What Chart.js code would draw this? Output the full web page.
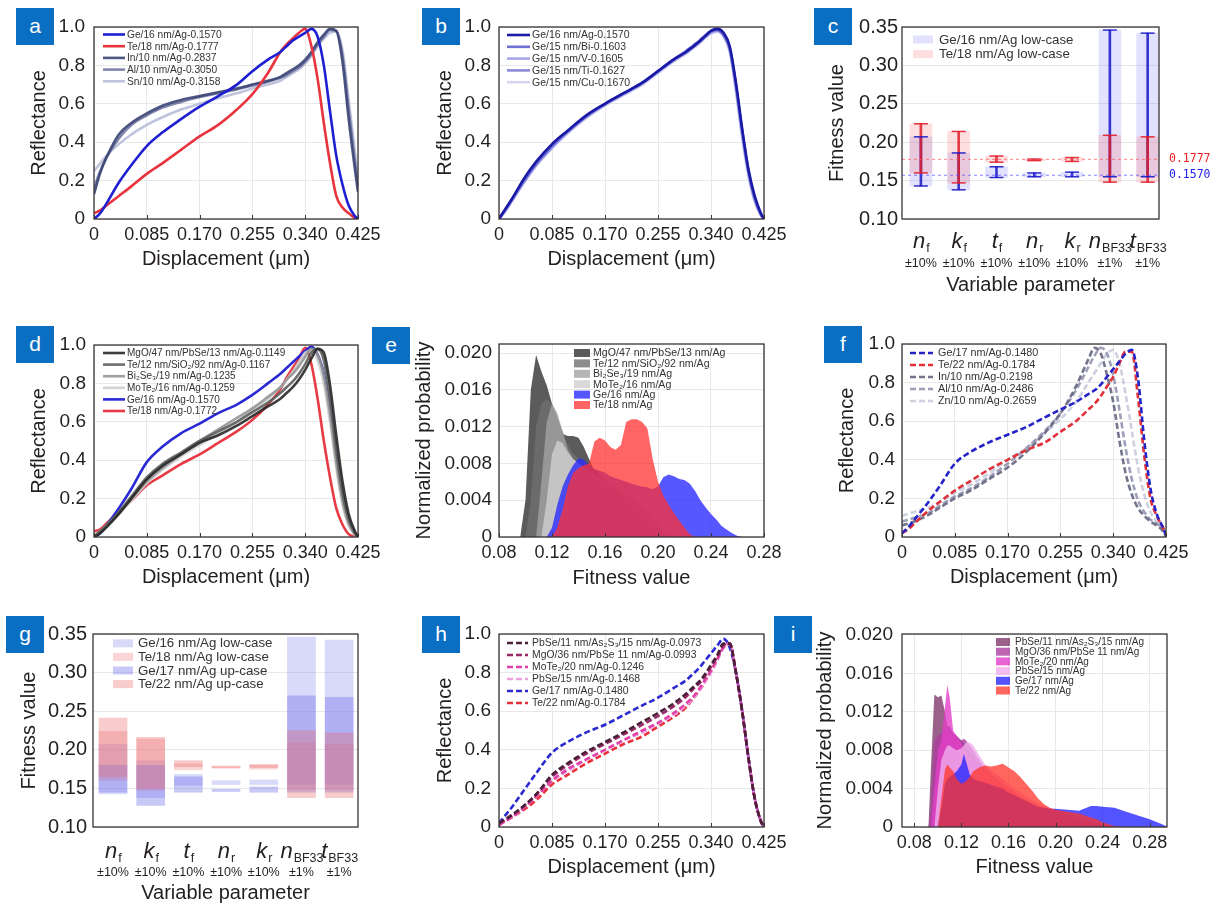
<!DOCTYPE html>
<html>
<head>
<meta charset="utf-8">
<title>Reflectance and fitness panels</title>
<script src="https://cdn.jsdelivr.net/npm/chart.js@4.4.1/dist/chart.umd.min.js"></script>
<style>
  html, body { margin: 0; padding: 0; background: #fff; }
  #fig { position: relative; width: 1218px; height: 905px; overflow: hidden; }
  #fig canvas { position: absolute; }
  .tag { position: absolute; width: 38px; height: 37px; background: #0a6fc2; color: #fff; z-index: 2;
         font: 21px "Liberation Sans", Arial, sans-serif; line-height: 35px; text-align: center; }
</style>
</head>
<body>
<div id="fig">
  <div class="tag" style="left:16px;top:8px">a</div>
  <div class="tag" style="left:422px;top:8px">b</div>
  <div class="tag" style="left:814px;top:8px">c</div>
  <div class="tag" style="left:16px;top:326px">d</div>
  <div class="tag" style="left:372px;top:327px">e</div>
  <div class="tag" style="left:824px;top:326px">f</div>
  <div class="tag" style="left:6px;top:616px">g</div>
  <div class="tag" style="left:422px;top:616px">h</div>
  <div class="tag" style="left:774px;top:616px">i</div>
</div>
<script>
// ---------- data ----------
// reflectance curves share one displacement grid (µm)
const xR = [0, 0.01, 0.02, 0.04, 0.06, 0.085, 0.11, 0.14, 0.17, 0.2, 0.23, 0.255, 0.28, 0.3, 0.31, 0.32, 0.33, 0.34, 0.35, 0.36, 0.37, 0.38, 0.39, 0.4, 0.41, 0.42, 0.425];
const dispTicks = [0, 0.085, 0.17, 0.255, 0.34, 0.425];
const dispTickLabels = ['0', '0.085', '0.170', '0.255', '0.340', '0.425'];
const reflTicks = [0, 0.2, 0.4, 0.6, 0.8, 1.0];
const reflTickLabels = ['0', '0.2', '0.4', '0.6', '0.8', '1.0'];

// a
const aLabels = ['Ge/16 nm/Ag-0.1570', 'Te/18 nm/Ag-0.1777', 'In/10 nm/Ag-0.2837', 'Al/10 nm/Ag-0.3050', 'Sn/10 nm/Ag-0.3158'];
const aGe16 = [0, 0.03, 0.08, 0.19, 0.28, 0.38, 0.45, 0.52, 0.585, 0.64, 0.70, 0.77, 0.83, 0.87, 0.90, 0.93, 0.95, 0.97, 0.99, 0.95, 0.80, 0.56, 0.33, 0.18, 0.07, 0.015, 0];
const aTe18 = [0.03, 0.045, 0.07, 0.12, 0.17, 0.235, 0.29, 0.36, 0.43, 0.49, 0.57, 0.65, 0.76, 0.87, 0.91, 0.94, 0.97, 0.99, 0.90, 0.73, 0.50, 0.29, 0.12, 0.06, 0.03, 0.005, 0];
const aIn10 = [0.13, 0.24, 0.32, 0.44, 0.50, 0.55, 0.59, 0.62, 0.64, 0.66, 0.68, 0.70, 0.72, 0.74, 0.76, 0.78, 0.80, 0.83, 0.87, 0.92, 0.96, 0.99, 0.98, 0.82, 0.52, 0.26, 0.14];
const aAl10 = [0.16, 0.25, 0.32, 0.42, 0.49, 0.54, 0.58, 0.61, 0.635, 0.655, 0.675, 0.695, 0.715, 0.735, 0.75, 0.77, 0.79, 0.82, 0.86, 0.91, 0.95, 0.985, 0.98, 0.85, 0.57, 0.30, 0.17];
const aSn10 = [0.25, 0.29, 0.33, 0.39, 0.44, 0.49, 0.53, 0.57, 0.60, 0.63, 0.655, 0.68, 0.70, 0.72, 0.74, 0.76, 0.78, 0.81, 0.85, 0.90, 0.94, 0.97, 0.975, 0.88, 0.62, 0.35, 0.20];

// b
const bLabels = ['Ge/16 nm/Ag-0.1570', 'Ge/15 nm/Bi-0.1603', 'Ge/15 nm/V-0.1605', 'Ge/15 nm/Ti-0.1627', 'Ge/15 nm/Cu-0.1670'];
const bGe16 = [0, 0.05, 0.10, 0.21, 0.30, 0.39, 0.46, 0.54, 0.60, 0.655, 0.71, 0.77, 0.83, 0.87, 0.895, 0.92, 0.95, 0.98, 0.99, 0.97, 0.90, 0.71, 0.47, 0.26, 0.12, 0.03, 0];
const bBi = [0, 0.05, 0.10, 0.20, 0.29, 0.38, 0.455, 0.535, 0.60, 0.655, 0.71, 0.77, 0.83, 0.875, 0.90, 0.925, 0.955, 0.98, 0.985, 0.96, 0.89, 0.70, 0.46, 0.25, 0.11, 0.025, 0];
const bV = [0, 0.04, 0.09, 0.19, 0.28, 0.37, 0.45, 0.53, 0.595, 0.65, 0.705, 0.765, 0.825, 0.865, 0.89, 0.915, 0.945, 0.97, 0.98, 0.955, 0.88, 0.68, 0.44, 0.24, 0.10, 0.02, 0];
const bTi = [0, 0.05, 0.10, 0.20, 0.29, 0.38, 0.455, 0.535, 0.60, 0.655, 0.71, 0.77, 0.83, 0.87, 0.895, 0.92, 0.95, 0.975, 0.985, 0.96, 0.885, 0.69, 0.45, 0.245, 0.105, 0.022, 0];
const bCu = [0, 0.04, 0.09, 0.19, 0.28, 0.37, 0.445, 0.525, 0.59, 0.645, 0.70, 0.76, 0.82, 0.86, 0.885, 0.91, 0.94, 0.965, 0.975, 0.95, 0.87, 0.66, 0.42, 0.22, 0.09, 0.018, 0];

// c and g: parameter ranges of the fitness value
const paramPos = [1, 2, 3, 4, 5, 6, 7];
const paramMain = ['n', 'k', 't', 'n', 'k', 'n', 't'];
const paramSub = ['f', 'f', 'f', 'r', 'r', 'BF33', 'BF33'];
const paramRange = ['±10%', '±10%', '±10%', '±10%', '±10%', '±1%', '±1%'];
const fitTicksC = [0.10, 0.15, 0.20, 0.25, 0.30, 0.35];
const fitTickLabelsC = ['0.10', '0.15', '0.20', '0.25', '0.30', '0.35'];
const geLow = [[0.143, 0.207], [0.138, 0.186], [0.154, 0.168], [0.155, 0.160], [0.155, 0.161], [0.155, 0.346], [0.155, 0.342]];
const teLow = [[0.160, 0.224], [0.147, 0.214], [0.174, 0.182], [0.176, 0.178], [0.175, 0.180], [0.148, 0.209], [0.148, 0.207]];
const geUp = [[0.145, 0.180], [0.128, 0.180], [0.145, 0.165], [0.146, 0.149], [0.145, 0.152], [0.145, 0.270], [0.145, 0.268]];
const teUp = [[0.165, 0.241], [0.150, 0.216], [0.178, 0.186], [0.177, 0.179], [0.177, 0.181], [0.138, 0.225], [0.138, 0.222]];
const refValues = [0.1777, 0.1570];

// d
const dLabels = ['MgO/47 nm/PbSe/13 nm/Ag-0.1149', 'Te/12 nm/SiO₂/92 nm/Ag-0.1167', 'Bi₂Se₃/19 nm/Ag-0.1235', 'MoTe₂/16 nm/Ag-0.1259', 'Ge/16 nm/Ag-0.1570', 'Te/18 nm/Ag-0.1772'];
const dMgO = [0, 0.02, 0.05, 0.12, 0.20, 0.30, 0.37, 0.43, 0.49, 0.53, 0.58, 0.63, 0.68, 0.72, 0.75, 0.78, 0.82, 0.87, 0.93, 0.98, 0.96, 0.79, 0.53, 0.29, 0.12, 0.03, 0];
const dTe12 = [0, 0.03, 0.06, 0.13, 0.21, 0.31, 0.38, 0.44, 0.50, 0.55, 0.60, 0.65, 0.70, 0.75, 0.78, 0.81, 0.85, 0.90, 0.96, 0.98, 0.92, 0.72, 0.45, 0.23, 0.09, 0.02, 0];
const dBi = [0, 0.03, 0.06, 0.12, 0.20, 0.29, 0.36, 0.43, 0.50, 0.56, 0.62, 0.67, 0.73, 0.78, 0.82, 0.85, 0.89, 0.94, 0.98, 0.95, 0.84, 0.64, 0.39, 0.19, 0.07, 0.015, 0];
const dMoTe = [0.01, 0.03, 0.06, 0.12, 0.19, 0.28, 0.35, 0.42, 0.48, 0.54, 0.60, 0.66, 0.72, 0.78, 0.82, 0.86, 0.91, 0.96, 0.97, 0.92, 0.80, 0.60, 0.36, 0.17, 0.06, 0.01, 0];
const dGe16 = [0, 0.02, 0.06, 0.15, 0.25, 0.39, 0.47, 0.54, 0.59, 0.645, 0.69, 0.74, 0.80, 0.85, 0.88, 0.91, 0.94, 0.97, 0.99, 0.95, 0.85, 0.67, 0.43, 0.22, 0.09, 0.015, 0];
const dTe18 = [0.03, 0.04, 0.07, 0.13, 0.19, 0.27, 0.32, 0.38, 0.43, 0.49, 0.55, 0.61, 0.69, 0.77, 0.83, 0.88, 0.93, 0.985, 0.90, 0.72, 0.50, 0.31, 0.15, 0.065, 0.015, 0.002, 0];

// e: fitness distributions
const xE = [0.096, 0.1, 0.104, 0.108, 0.112, 0.116, 0.12, 0.124, 0.128, 0.132, 0.136, 0.14, 0.144, 0.148, 0.152, 0.156, 0.16, 0.164, 0.168, 0.172, 0.176, 0.18, 0.184, 0.188, 0.192, 0.196, 0.2, 0.204, 0.208, 0.212, 0.216, 0.22, 0.224, 0.228, 0.232, 0.236, 0.24, 0.244, 0.248, 0.252, 0.256, 0.26, 0.264];
const eLabels = ['MgO/47 nm/PbSe/13 nm/Ag', 'Te/12 nm/SiO₂/92 nm/Ag', 'Bi₂Se₃/19 nm/Ag', 'MoTe₂/16 nm/Ag', 'Ge/16 nm/Ag', 'Te/18 nm/Ag'];
const eMgO = [0, 0.004, 0.016, 0.0198, 0.018, 0.0165, 0.0145, 0.013, 0.0112, 0.011, 0.011, 0.0108, 0.0098, 0.0085, 0.0072, 0.0065, 0.006, 0.0056, 0.0052, 0.0048, 0.0044, 0.004, 0.0035, 0.003, 0.0024, 0.0018, 0.0012, 0.0006, 0.0002, 0, 0, 0, 0, 0, 0, 0, 0, 0, 0, 0, 0, 0, 0];
const eTe12 = [0, 0, 0.004, 0.012, 0.0145, 0.015, 0.0145, 0.013, 0.0115, 0.010, 0.009, 0.0086, 0.0082, 0.0078, 0.0074, 0.0068, 0.0062, 0.0058, 0.0054, 0.005, 0.0046, 0.0042, 0.0036, 0.003, 0.0024, 0.0016, 0.001, 0.0004, 0, 0, 0, 0, 0, 0, 0, 0, 0, 0, 0, 0, 0, 0, 0];
const eBi = [0, 0, 0, 0, 0.006, 0.0125, 0.0145, 0.0135, 0.0115, 0.0095, 0.0085, 0.008, 0.0077, 0.0073, 0.0068, 0.0063, 0.0058, 0.0054, 0.005, 0.0046, 0.0042, 0.0038, 0.0033, 0.0028, 0.0022, 0.0016, 0.001, 0.0005, 0.0002, 0, 0, 0, 0, 0, 0, 0, 0, 0, 0, 0, 0, 0, 0];
const eMoTe = [0, 0, 0, 0, 0, 0.004, 0.009, 0.0105, 0.0102, 0.0092, 0.0085, 0.008, 0.0076, 0.0072, 0.0068, 0.0065, 0.0062, 0.0058, 0.0054, 0.005, 0.0046, 0.0042, 0.0037, 0.0032, 0.0026, 0.002, 0.0014, 0.0009, 0.0005, 0.0002, 0, 0, 0, 0, 0, 0, 0, 0, 0, 0, 0, 0, 0];
const eGe16 = [0, 0, 0, 0, 0, 0, 0.001, 0.0035, 0.0055, 0.0068, 0.0078, 0.0086, 0.0084, 0.0078, 0.0074, 0.0072, 0.007, 0.0066, 0.0064, 0.0062, 0.006, 0.0058, 0.0056, 0.0055, 0.0054, 0.0052, 0.0055, 0.0065, 0.0068, 0.0066, 0.0063, 0.0062, 0.0058, 0.005, 0.004, 0.0032, 0.0025, 0.0019, 0.0012, 0.0008, 0.0004, 0.0001, 0];
const eTe18 = [0, 0, 0, 0, 0, 0, 0, 0.001, 0.003, 0.0055, 0.007, 0.0075, 0.0078, 0.008, 0.0104, 0.0108, 0.0105, 0.0098, 0.0095, 0.01, 0.0125, 0.0128, 0.0128, 0.0125, 0.0118, 0.0085, 0.006, 0.0045, 0.0035, 0.0026, 0.0018, 0.001, 0.0003, 0, 0, 0, 0, 0, 0, 0, 0, 0, 0];
const fitTicks = [0.08, 0.12, 0.16, 0.20, 0.24, 0.28];
const fitTickLabels = ['0.08', '0.12', '0.16', '0.20', '0.24', '0.28'];
const probTicks = [0, 0.004, 0.008, 0.012, 0.016, 0.020];
const probTickLabels = ['0', '0.004', '0.008', '0.012', '0.016', '0.020'];

// f
const fLabels = ['Ge/17 nm/Ag-0.1480', 'Te/22 nm/Ag-0.1784', 'In/10 nm/Ag-0.2198', 'Al/10 nm/Ag-0.2486', 'Zn/10 nm/Ag-0.2659'];
const fGe17 = [0.02, 0.05, 0.09, 0.17, 0.26, 0.38, 0.44, 0.49, 0.53, 0.57, 0.62, 0.66, 0.70, 0.74, 0.76, 0.79, 0.83, 0.87, 0.91, 0.95, 0.97, 0.82, 0.50, 0.25, 0.12, 0.05, 0.01];
const fTe22 = [0.02, 0.04, 0.07, 0.13, 0.18, 0.24, 0.29, 0.35, 0.40, 0.45, 0.49, 0.545, 0.60, 0.66, 0.69, 0.73, 0.78, 0.83, 0.90, 0.96, 0.96, 0.72, 0.42, 0.20, 0.11, 0.05, 0.02];
const fIn10 = [0.06, 0.07, 0.08, 0.11, 0.15, 0.20, 0.24, 0.30, 0.36, 0.44, 0.54, 0.64, 0.78, 0.92, 0.98, 0.95, 0.84, 0.70, 0.50, 0.33, 0.22, 0.15, 0.11, 0.08, 0.06, 0.03, 0];
const fAl10 = [0.08, 0.09, 0.10, 0.12, 0.16, 0.21, 0.25, 0.31, 0.38, 0.46, 0.55, 0.64, 0.76, 0.88, 0.94, 0.98, 0.95, 0.84, 0.66, 0.46, 0.30, 0.19, 0.13, 0.09, 0.07, 0.04, 0.01];
const fZn10 = [0.11, 0.12, 0.13, 0.15, 0.18, 0.23, 0.27, 0.33, 0.40, 0.46, 0.54, 0.61, 0.70, 0.80, 0.85, 0.90, 0.95, 0.97, 0.90, 0.74, 0.55, 0.36, 0.22, 0.13, 0.08, 0.04, 0.01];

// g
const gLabels = ['Ge/16 nm/Ag low-case', 'Te/18 nm/Ag low-case', 'Ge/17 nm/Ag up-case', 'Te/22 nm/Ag up-case'];

// h
const hLabels = ['PbSe/11 nm/As₂S₃/15 nm/Ag-0.0973', 'MgO/36 nm/PbSe 11 nm/Ag-0.0993', 'MoTe₂/20 nm/Ag-0.1246', 'PbSe/15 nm/Ag-0.1468', 'Ge/17 nm/Ag-0.1480', 'Te/22 nm/Ag-0.1784'];
const hPbSe11 = [0.02, 0.04, 0.06, 0.11, 0.17, 0.27, 0.33, 0.39, 0.44, 0.49, 0.545, 0.59, 0.64, 0.69, 0.72, 0.75, 0.79, 0.84, 0.89, 0.95, 0.95, 0.80, 0.60, 0.36, 0.15, 0.03, 0];
const hMgO36 = [0.02, 0.04, 0.06, 0.11, 0.17, 0.26, 0.32, 0.38, 0.43, 0.48, 0.53, 0.575, 0.625, 0.675, 0.71, 0.74, 0.78, 0.83, 0.88, 0.94, 0.95, 0.80, 0.60, 0.36, 0.15, 0.03, 0];
const hMoTe20 = [0.01, 0.03, 0.05, 0.10, 0.16, 0.24, 0.30, 0.35, 0.40, 0.45, 0.50, 0.54, 0.59, 0.64, 0.67, 0.71, 0.76, 0.81, 0.87, 0.93, 0.95, 0.80, 0.60, 0.36, 0.15, 0.03, 0];
const hPbSe15 = [0.01, 0.03, 0.05, 0.10, 0.16, 0.24, 0.29, 0.35, 0.40, 0.45, 0.49, 0.535, 0.58, 0.63, 0.66, 0.70, 0.75, 0.80, 0.86, 0.93, 0.95, 0.80, 0.60, 0.36, 0.15, 0.03, 0];
const hGe17 = [0.02, 0.06, 0.10, 0.19, 0.28, 0.385, 0.44, 0.49, 0.53, 0.58, 0.63, 0.67, 0.72, 0.76, 0.79, 0.82, 0.86, 0.90, 0.94, 0.975, 0.93, 0.80, 0.60, 0.36, 0.15, 0.03, 0];
const hTe22 = [0.02, 0.03, 0.05, 0.09, 0.14, 0.22, 0.27, 0.33, 0.38, 0.43, 0.47, 0.52, 0.57, 0.62, 0.66, 0.70, 0.75, 0.81, 0.87, 0.93, 0.95, 0.80, 0.60, 0.36, 0.15, 0.03, 0];

// i
const xI = [0.090, 0.092, 0.094, 0.097, 0.100, 0.103, 0.106, 0.108, 0.110, 0.113, 0.116, 0.120, 0.122, 0.124, 0.127, 0.130, 0.135, 0.140, 0.145, 0.150, 0.155, 0.160, 0.165, 0.170, 0.175, 0.180, 0.185, 0.190, 0.195, 0.200, 0.210, 0.220, 0.230, 0.235, 0.240, 0.250, 0.260, 0.270, 0.280, 0.290, 0.296];
const iLabels = ['PbSe/11 nm/As₂S₃/15 nm/Ag', 'MgO/36 nm/PbSe 11 nm/Ag', 'MoTe₂/20 nm/Ag', 'PbSe/15 nm/Ag', 'Ge/17 nm/Ag', 'Te/22 nm/Ag'];
const iPbSe11 = [0, 0, 0.006, 0.0138, 0.0135, 0.0137, 0.012, 0.0105, 0.0105, 0.0098, 0.0095, 0.009, 0.0088, 0.0082, 0.0078, 0.0072, 0.0065, 0.006, 0.0055, 0.005, 0.0045, 0.004, 0.0036, 0.0032, 0.0028, 0.0025, 0.0022, 0.002, 0.0018, 0.0016, 0.0012, 0.0008, 0.0005, 0.0003, 0.0002, 0, 0, 0, 0, 0, 0];
const iMgO36 = [0, 0, 0.002, 0.009, 0.0095, 0.0098, 0.0102, 0.0105, 0.01, 0.0095, 0.0092, 0.009, 0.0092, 0.009, 0.0085, 0.008, 0.007, 0.0062, 0.0056, 0.005, 0.0045, 0.004, 0.0036, 0.0032, 0.0028, 0.0025, 0.0022, 0.002, 0.0018, 0.0016, 0.0012, 0.0008, 0.0005, 0.0003, 0.0002, 0, 0, 0, 0, 0, 0];
const iMoTe20 = [0, 0, 0, 0.004, 0.008, 0.009, 0.0125, 0.0148, 0.0135, 0.01, 0.0095, 0.0088, 0.008, 0.0075, 0.0072, 0.007, 0.0062, 0.0058, 0.0052, 0.0048, 0.0044, 0.004, 0.0036, 0.0032, 0.0028, 0.0025, 0.0022, 0.002, 0.0018, 0.0016, 0.0012, 0.0008, 0.0005, 0.0003, 0.0002, 0, 0, 0, 0, 0, 0];
const iPbSe15 = [0, 0, 0, 0, 0.004, 0.007, 0.008, 0.0085, 0.0085, 0.0082, 0.008, 0.0082, 0.0085, 0.0088, 0.0088, 0.0085, 0.0075, 0.0065, 0.006, 0.0055, 0.005, 0.0045, 0.004, 0.0036, 0.0032, 0.0028, 0.0025, 0.0022, 0.002, 0.0018, 0.0014, 0.001, 0.0006, 0.0004, 0.0002, 0, 0, 0, 0, 0, 0];
const iGe17 = [0, 0, 0, 0, 0, 0.002, 0.0045, 0.005, 0.0052, 0.0055, 0.0058, 0.0065, 0.0076, 0.0068, 0.0055, 0.005, 0.0048, 0.0046, 0.0044, 0.0042, 0.004, 0.0036, 0.0033, 0.003, 0.0027, 0.0024, 0.0021, 0.002, 0.0019, 0.0019, 0.0018, 0.0017, 0.0022, 0.0022, 0.0021, 0.002, 0.0016, 0.0012, 0.0008, 0.0003, 0];
const iTe22 = [0, 0, 0, 0, 0, 0.003, 0.006, 0.0065, 0.0062, 0.0058, 0.005, 0.0045, 0.0046, 0.0048, 0.0052, 0.0058, 0.0062, 0.0064, 0.0063, 0.0064, 0.0066, 0.0062, 0.0058, 0.0052, 0.0045, 0.0038, 0.003, 0.0024, 0.002, 0.0018, 0.0016, 0.0014, 0.001, 0.0008, 0.0005, 0.0001, 0, 0, 0, 0, 0];

// ---------- drawing ----------
const FONT = '"Liberation Sans", Arial, sans-serif';
const INK = '#231f20';
const GRID = '#e8e8e8';
Chart.defaults.font.family = FONT;
Chart.defaults.color = INK;
const fig = document.getElementById('fig');

// dark frame round the plot, optional short inward ticks on the bottom edge
const framePlugin = {
  id: 'frame',
  defaults: { ticks: false },
  afterDatasetsDraw(chart, args, o) {
    const { ctx, chartArea: ca } = chart;
    ctx.save();
    ctx.strokeStyle = '#3a3436';
    ctx.lineWidth = 1.3;
    ctx.strokeRect(ca.left, ca.top, ca.right - ca.left, ca.bottom - ca.top);
    if (o.ticks) {
      const xs = chart.scales.x;
      ctx.lineWidth = 1;
      xs.ticks.forEach(t => {
        const px = Math.round(xs.getPixelForValue(t.value)) + 0.5;
        ctx.beginPath(); ctx.moveTo(px, ca.bottom); ctx.lineTo(px, ca.bottom - 4); ctx.stroke();
      });
    }
    ctx.restore();
  }
};

// small legend drawn inside the plot, built from the datasets that carry a label
const legendPlugin = {
  id: 'legendIn',
  afterDraw(chart, args, o) {
    if (!o || o.x === undefined) return;
    const ctx = chart.ctx;
    ctx.save();
    ctx.font = o.size + 'px ' + FONT;
    ctx.textBaseline = 'middle';
    ctx.textAlign = 'left';
    let y = o.y;
    chart.data.datasets.forEach(ds => {
      if (!ds.label) return;
      if (o.box) {
        ctx.fillStyle = ds.backgroundColor;
        ctx.fillRect(o.x, y - o.bh / 2, o.len, o.bh);
      } else {
        ctx.strokeStyle = ds.borderColor;
        ctx.lineWidth = ds.borderWidth;
        ctx.setLineDash(ds.borderDash || []);
        ctx.beginPath(); ctx.moveTo(o.x, y); ctx.lineTo(o.x + o.len, y); ctx.stroke();
        ctx.setLineDash([]);
      }
      ctx.fillStyle = '#333';
      ctx.fillText(ds.label, o.x + o.len + o.gap, y + 0.5);
      y += o.dy;
    });
    ctx.restore();
  }
};

// italic parameter names with subscripts and their ranges under the x axis
const paramPlugin = {
  id: 'paramLabels',
  afterDraw(chart, args, o) {
    const ctx = chart.ctx, xs = chart.scales.x;
    ctx.save();
    ctx.fillStyle = INK;
    ctx.textBaseline = 'alphabetic';
    paramPos.forEach((p, i) => {
      const cx = xs.getPixelForValue(p);
      ctx.font = 'italic 22px ' + FONT;
      const w1 = ctx.measureText(paramMain[i]).width;
      ctx.font = '12.5px ' + FONT;
      const w2 = ctx.measureText(paramSub[i]).width;
      const x0 = cx - (w1 + w2) / 2;
      ctx.textAlign = 'left';
      ctx.font = 'italic 22px ' + FONT;
      ctx.fillText(paramMain[i], x0, o.mainY);
      ctx.font = '12.5px ' + FONT;
      ctx.fillText(paramSub[i], x0 + w1 + 1, o.mainY + 4);
      ctx.textAlign = 'center';
      ctx.font = '12.5px ' + FONT;
      ctx.fillText(paramRange[i], cx, o.rangeY);
    });
    ctx.restore();
  }
};

// value tags for the two reference lines of panel c
const refPlugin = {
  id: 'refTags',
  afterDraw(chart, args, o) {
    const ctx = chart.ctx, ys = chart.scales.y;
    ctx.save();
    ctx.font = '11.5px "DejaVu Sans Mono", monospace';
    ctx.textBaseline = 'middle';
    refValues.forEach((v, i) => {
      ctx.fillStyle = o.colors[i];
      ctx.fillText(v.toFixed(4), chart.chartArea.right + 10, ys.getPixelForValue(v));
    });
    ctx.restore();
  }
};

function geom(box, plot, yTitleX, xTitleY) {
  return {
    box,
    yW: plot[0] - box[0],
    xH: box[1] + box[3] - plot[3],
    pad: { left: 0, top: plot[1] - box[1], right: box[0] + box[2] - plot[2], bottom: 0 },
    yTitlePad: yTitleX - box[0] - 12,
    xTitlePad: box[1] + box[3] - 12 - xTitleY
  };
}

function xScale(g, o) {
  return {
    type: 'linear', min: o.min, max: o.max, offset: false,
    afterBuildTicks: s => { s.ticks = o.ticks.map(v => ({ value: v })); },
    afterFit: s => { s.height = g.xH; },
    ticks: { display: !!o.labels, callback: (v, i) => o.labels ? o.labels[i] : '', font: { size: 18 },
             padding: 5, maxRotation: 0, minRotation: 0, autoSkip: false },
    grid: { display: o.grid !== false, color: GRID, drawTicks: false, offset: false },
    border: { display: false },
    title: { display: true, text: o.title, font: { size: 20 }, padding: { top: 0, bottom: g.xTitlePad } }
  };
}

function yScale(g, o) {
  return {
    type: 'linear', min: o.min, max: o.max, beginAtZero: false,
    afterBuildTicks: s => { s.ticks = o.ticks.map(v => ({ value: v })); },
    afterFit: s => { s.width = g.yW; },
    ticks: { callback: (v, i) => o.labels[i], font: { size: o.size || 19 }, padding: o.pad, autoSkip: false },
    grid: { color: GRID, drawTicks: false },
    border: { display: false },
    title: { display: true, text: o.title, font: { size: 20 }, padding: { top: g.yTitlePad, bottom: 0 } }
  };
}

function build(g, type, datasets, xo, yo, pluginOpts, extra) {
  const [cx, cy, cw, ch] = g.box;
  const cv = document.createElement('canvas');
  cv.width = cw; cv.height = ch;
  Object.assign(cv.style, { left: cx + 'px', top: cy + 'px', width: cw + 'px', height: ch + 'px' });
  fig.appendChild(cv);
  return new Chart(cv, {
    type,
    data: { datasets },
    options: {
      responsive: false, animation: false, devicePixelRatio: 1,
      layout: { padding: g.pad },
      plugins: Object.assign({ legend: { display: false }, tooltip: { enabled: false } }, pluginOpts),
      scales: { x: xScale(g, xo), y: yScale(g, yo) }
    },
    plugins: [framePlugin, legendPlugin].concat(extra || [])
  });
}

function curve(label, ys, color, dash) {
  return {
    label, data: xR.map((x, i) => ({ x, y: ys[i] })),
    borderColor: color, borderWidth: 2.6, borderDash: dash || [],
    pointRadius: 0, fill: false, cubicInterpolationMode: 'monotone'
  };
}

function area(label, xs, ys, color, order) {
  return {
    label, data: xs.map((x, i) => ({ x, y: ys[i] })), order,
    backgroundColor: color, borderColor: color, borderWidth: 0,
    pointRadius: 0, fill: 'origin', tension: 0
  };
}

const dispX = { min: 0, max: 0.425, ticks: dispTicks, labels: dispTickLabels, title: 'Displacement (μm)' };
const reflY = pad => ({ min: 0, max: 1, ticks: reflTicks, labels: reflTickLabels, title: 'Reflectance', pad });
const DASH = [6, 3];

// a
build(geom([0, 0, 410, 300], [94, 27, 358, 219], 39, 259), 'line', [
  curve(aLabels[0], aGe16, '#1f1fd2'),
  curve(aLabels[1], aTe18, '#e8343e'),
  curve(aLabels[2], aIn10, 'rgba(60,70,118,0.9)'),
  curve(aLabels[3], aAl10, 'rgba(98,102,150,0.8)'),
  curve(aLabels[4], aSn10, 'rgba(180,186,214,0.85)')
], dispX, reflY(9), { frame: { ticks: true }, legendIn: { x: 103, y: 34.5, dy: 11.7, len: 22, gap: 2, size: 10.2 } });

// b
build(geom([410, 0, 400, 300], [499, 27, 764, 219], 445, 259), 'line', [
  curve(bLabels[0], bGe16, '#1b1aa6'),
  curve(bLabels[1], bBi, 'rgba(96,96,206,0.9)'),
  curve(bLabels[2], bV, 'rgba(156,156,232,0.9)'),
  curve(bLabels[3], bTi, 'rgba(126,126,214,0.9)'),
  curve(bLabels[4], bCu, 'rgba(210,210,240,0.9)')
], dispX, reflY(8), { frame: { ticks: true }, legendIn: { x: 97, y: 35, dy: 11.8, len: 23, gap: 2, size: 10.5 } });

// c
const rangeBars = (rows, color, thick, label, order) => ({
  type: 'bar', label, order, grouped: false, barThickness: thick,
  data: rows.map((r, i) => ({ x: paramPos[i], y: r })),
  backgroundColor: color, borderWidth: 0
});
const caps = (rows, color, order) => ({
  type: 'line', showLine: false, order,
  data: rows.flatMap((r, i) => [{ x: paramPos[i], y: r[0] }, { x: paramPos[i], y: r[1] }]),
  pointStyle: 'line', pointRadius: 7, pointBorderColor: color, pointBorderWidth: 1.5, borderColor: color
});
const refLine = (v, color) => ({
  type: 'line', order: 0, data: [{ x: 0.5, y: v }, { x: 7.3, y: v }],
  borderColor: color, borderWidth: 1, borderDash: [3, 3], pointRadius: 0
});
build(geom([810, 0, 408, 300], [902, 27, 1159, 219], 837, 285), 'bar', [
  rangeBars(geLow, 'rgba(125,125,250,0.22)', 22, 'Ge/16 nm/Ag low-case', 10),
  rangeBars(teLow, 'rgba(250,115,115,0.24)', 22, 'Te/18 nm/Ag low-case', 9),
  rangeBars(geLow, 'rgba(25,25,200,0.85)', 2, undefined, 6),
  rangeBars(teLow, 'rgba(225,30,45,0.85)', 2, undefined, 5),
  caps(geLow, 'rgba(25,25,200,0.9)', 4),
  caps(teLow, 'rgba(225,30,45,0.9)', 3),
  refLine(refValues[0], 'rgba(250,80,80,0.7)'),
  refLine(refValues[1], 'rgba(80,80,250,0.7)')
], { min: 0.5, max: 7.3, ticks: paramPos, title: 'Variable parameter', grid: false },
   { min: 0.1, max: 0.35, ticks: fitTicksC, labels: fitTickLabelsC, title: 'Fitness value', pad: 4, size: 20 },
   { legendIn: { x: 103, y: 39.5, dy: 14.6, len: 20, bh: 8, box: true, gap: 6, size: 13.3 },
     paramLabels: { mainY: 248, rangeY: 267 }, refTags: { colors: ['#f01e1e', '#1e1ef0'] } },
   [paramPlugin, refPlugin]);

// d
build(geom([0, 300, 410, 300], [94, 345, 358, 537], 39, 577), 'line', [
  curve(dLabels[0], dMgO, 'rgba(40,40,40,0.9)'),
  curve(dLabels[1], dTe12, 'rgba(92,96,92,0.9)'),
  curve(dLabels[2], dBi, 'rgba(150,150,150,0.9)'),
  curve(dLabels[3], dMoTe, 'rgba(205,205,205,0.9)'),
  curve(dLabels[4], dGe16, '#2a2ad4'),
  curve(dLabels[5], dTe18, '#e83a44')
], dispX, reflY(8), { frame: { ticks: true }, legendIn: { x: 103, y: 53, dy: 11.6, len: 22, gap: 2, size: 10 } });

// e
build(geom([410, 300, 400, 300], [499, 344, 764, 537], 424, 578), 'line', [
  area(eLabels[0], xE, eMgO, 'rgba(62,62,62,0.85)', 6),
  area(eLabels[1], xE, eTe12, 'rgba(112,112,112,0.8)', 5),
  area(eLabels[2], xE, eBi, 'rgba(162,162,162,0.8)', 4),
  area(eLabels[3], xE, eMoTe, 'rgba(208,208,208,0.8)', 3),
  area(eLabels[4], xE, eGe16, 'rgba(40,40,255,0.78)', 2),
  area(eLabels[5], xE, eTe18, 'rgba(255,50,50,0.75)', 1)
], { min: 0.08, max: 0.28, ticks: fitTicks, labels: fitTickLabels, title: 'Fitness value' },
   { min: 0, max: 0.021, ticks: probTicks, labels: probTickLabels, title: 'Normalized probability', pad: 7 },
   { frame: { ticks: true }, legendIn: { x: 164, y: 53, dy: 10.4, len: 16, bh: 8, box: true, gap: 3, size: 10.6 } });

// f
build(geom([810, 300, 408, 300], [902, 344, 1166, 537], 847, 577), 'line', [
  curve(fLabels[0], fGe17, '#2323c8', DASH),
  curve(fLabels[1], fTe22, '#e0303a', DASH),
  curve(fLabels[2], fIn10, 'rgba(100,100,128,0.9)', DASH),
  curve(fLabels[3], fAl10, 'rgba(140,142,172,0.85)', DASH),
  curve(fLabels[4], fZn10, 'rgba(196,200,220,0.85)', DASH)
], dispX, reflY(7), { frame: { ticks: true }, legendIn: { x: 100, y: 53, dy: 12, len: 23, gap: 5, size: 10.8 } });

// g
build(geom([0, 600, 410, 305], [93, 634, 358, 827], 29, 893), 'bar', [
  rangeBars(geLow, 'rgba(130,130,240,0.30)', 28, gLabels[0], 4),
  rangeBars(teLow, 'rgba(240,125,125,0.32)', 28, gLabels[1], 3),
  rangeBars(geUp, 'rgba(105,105,235,0.36)', 28, gLabels[2], 2),
  rangeBars(teUp, 'rgba(235,105,105,0.34)', 28, gLabels[3], 1)
], { min: 0.47, max: 7.5, ticks: paramPos, title: 'Variable parameter', grid: false },
   { min: 0.1, max: 0.35, ticks: fitTicksC, labels: fitTickLabelsC, title: 'Fitness value', pad: 6, size: 20 },
   { legendIn: { x: 113, y: 43.3, dy: 13.6, len: 20, bh: 8, box: true, gap: 5, size: 13.3 },
     paramLabels: { mainY: 258, rangeY: 276 } },
   [paramPlugin]);

// h
build(geom([410, 600, 400, 305], [499, 634, 764, 827], 445, 867), 'line', [
  curve(hLabels[0], hPbSe11, '#4a2038', DASH),
  curve(hLabels[1], hMgO36, '#9a2a6a', DASH),
  curve(hLabels[2], hMoTe20, '#e040a8', DASH),
  curve(hLabels[3], hPbSe15, '#eaa2e4', DASH),
  curve(hLabels[4], hGe17, '#2a2ad0', DASH),
  curve(hLabels[5], hTe22, '#e8303c', DASH)
], dispX, reflY(8), { frame: { ticks: true }, legendIn: { x: 97, y: 43, dy: 12, len: 21, gap: 4, size: 10.4 } });

// i
build(geom([810, 600, 408, 305], [902, 634, 1167, 827], 825, 867), 'line', [
  area(iLabels[0], xI, iPbSe11, 'rgba(132,62,112,0.82)', 6),
  area(iLabels[1], xI, iMgO36, 'rgba(172,62,160,0.8)', 5),
  area(iLabels[2], xI, iMoTe20, 'rgba(228,62,200,0.8)', 4),
  area(iLabels[3], xI, iPbSe15, 'rgba(240,172,236,0.8)', 3),
  area(iLabels[4], xI, iGe17, 'rgba(40,40,255,0.8)', 2),
  area(iLabels[5], xI, iTe22, 'rgba(255,52,40,0.75)', 1)
], { min: 0.0695, max: 0.2947, ticks: fitTicks, labels: fitTickLabels, title: 'Fitness value' },
   { min: 0, max: 0.0201, ticks: probTicks, labels: probTickLabels, title: 'Normalized probability', pad: 9 },
   { frame: { ticks: true }, legendIn: { x: 186, y: 42, dy: 9.7, len: 14, bh: 8, box: true, gap: 5, size: 10 } });
</script>
</body>
</html>
